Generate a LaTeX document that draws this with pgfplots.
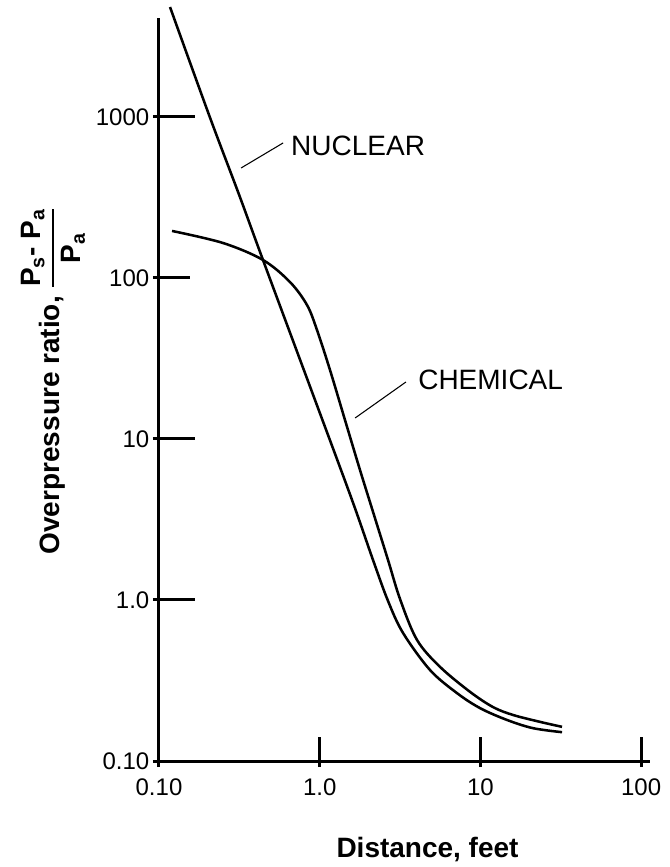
\documentclass[border=0pt]{standalone}
\usepackage{fontspec}
\setmainfont{Liberation Sans}
\usepackage{amsmath}
\usepackage{pgfplots}
\pgfplotsset{compat=1.18}
\usetikzlibrary{calc}

% Overpressure ratio versus distance, nuclear and chemical bursts
\pgfplotstableread{
x      y
0.1171 4820
0.207  1000
0.315  329
0.4436 129.4
0.935  17.46
1.589  4.18
2.146  1.772
2.661  0.986
3.30   0.624
4.86   0.367
7.15   0.264
9.95   0.213
14.6   0.180
21.2   0.160
32.2   0.151
}\nucleardata

\pgfplotstableread{
x      y
0.1205 196
0.250  165
0.4436 129.4
0.653  94.4
0.834  67.9
0.962  47.5
1.159  26.8
1.437  13.1
1.781  6.42
2.177  3.37
2.661  1.772
3.16   1.014
4.03   0.565
5.61   0.384
8.61   0.269
12.0   0.216
16.0   0.193
23.5   0.175
32.2   0.163
}\chemicaldata

\begin{document}
\begin{tikzpicture}
\begin{axis}[
  scale only axis,
  width=368.25pt, height=557.25pt,
  xmode=log, ymode=log,
  xmin=0.1, xmax=113.5, ymin=0.1, ymax=4120,
  axis lines=left,
  axis line style={-, line width=2.25pt, black},
  clip=false,
  xtick={0.1,1,10,100}, xticklabels={0.10,1.0,10,100},
  ytick={0.1,1,10,100,1000}, yticklabels={0.10,1.0,10,100,1000},
  xminorticks=false, yminorticks=false,
  tick align=inside,
  major tick length=0pt,
  tick style={draw=none},
  ticklabel style={font=\fontsize{18}{20}\selectfont},
  yticklabel style={xshift=-3.75pt},
  xticklabel style={yshift=-9.75pt},
  /pgf/number format/assume math mode=true,
]
\coordinate (O) at (axis cs:0.1,0.1);

% ticks: a little outside the axis line, mostly inside
\draw[line width=2.25pt] ([yshift=-4.5pt]axis cs:0.1,0.1) -- ([yshift=18pt]axis cs:0.1,0.1);
\draw[line width=2.25pt] ([yshift=-4.5pt]axis cs:1,0.1)   -- ([yshift=18pt]axis cs:1,0.1);
\draw[line width=2.25pt] ([yshift=-4.5pt]axis cs:10,0.1)  -- ([yshift=18pt]axis cs:10,0.1);
\draw[line width=2.25pt] ([yshift=-4.5pt]axis cs:100,0.1) -- ([yshift=18pt]axis cs:100,0.1);
\draw[line width=2.25pt] ([xshift=-4.5pt]axis cs:0.1,0.1)  -- ([xshift=27pt]axis cs:0.1,0.1);
\draw[line width=2.25pt] ([xshift=-4.5pt]axis cs:0.1,1)    -- ([xshift=27pt]axis cs:0.1,1);
\draw[line width=2.25pt] ([xshift=-4.5pt]axis cs:0.1,10)   -- ([xshift=27pt]axis cs:0.1,10);
\draw[line width=2.25pt] ([xshift=-4.5pt]axis cs:0.1,100)  -- ([xshift=23pt]axis cs:0.1,100);
\draw[line width=2.25pt] ([xshift=-4.5pt]axis cs:0.1,1000) -- ([xshift=27pt]axis cs:0.1,1000);

\addplot[black, line width=1.9pt, smooth, tension=0.55] table[x=x, y=y] {\nucleardata};
\addplot[black, line width=1.9pt, smooth, tension=0.55] table[x=x, y=y] {\chemicaldata};

% curve labels with leader lines
\draw[line width=0.8pt] (axis cs:0.324,482) -- (axis cs:0.592,690);
\node[anchor=west, inner sep=0pt, font=\fontsize{21}{23}\selectfont] at (axis cs:0.662,661) {NUCLEAR};
\draw[line width=0.8pt] (axis cs:1.66,13.5) -- (axis cs:3.44,22.6);
\node[anchor=west, inner sep=0pt, font=\fontsize{21}{23}\selectfont] at (axis cs:4.09,23.2) {CHEMICAL};
\end{axis}

\node[anchor=base, font=\bfseries\fontsize{21}{24}\selectfont] at ($(O)+(201.4pt,-72pt)$) {Distance, feet};
\node[rotate=90, anchor=base, font=\bfseries\fontsize{21}{24}\selectfont]
  at ($(O)+(-74.25pt,285pt)$)
  {Overpressure ratio, $\genfrac{}{}{1.8pt}{0}{\mbox{P\textsubscript{s}- P\textsubscript{a}}}{\mbox{P\textsubscript{a}}}$};

\pgfresetboundingbox
\path ($(O)+(-119.25pt,-79.5pt)$) rectangle ($(O)+(383.25pt,570.75pt)$);
\end{tikzpicture}
\end{document}
